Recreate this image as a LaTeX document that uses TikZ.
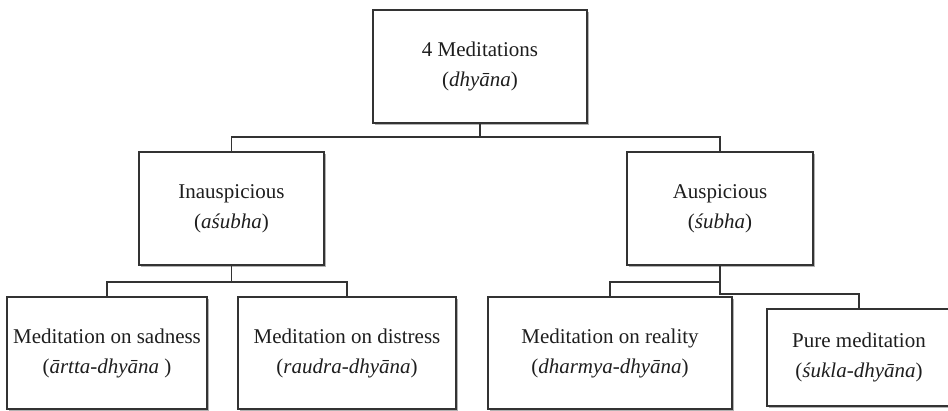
\documentclass[tikz,border=0pt]{standalone}
\usepackage{fontspec}
\setmainfont{Liberation Serif}
\usetikzlibrary{shadows}
\definecolor{linec}{HTML}{333333}
\definecolor{textc}{HTML}{1E1E1E}
\begin{document}
\begin{tikzpicture}[x=1pt,y=-1pt,
  box/.style={draw=linec, line width=2.3pt, fill=white, inner sep=0pt, align=center,
    text=textc, font=\fontsize{21}{30}\selectfont,
    drop shadow={shadow xshift=2pt, shadow yshift=-2.5pt, fill=black, opacity=0.3}},
  conn/.style={draw=linec, line width=1.9pt}]
\useasboundingbox (0,0) rectangle (948,411);
\clip (0,0) rectangle (948,411);
\node[box, minimum width=214pt, minimum height=113pt] (top) at (480,66.5) {4 Meditations\\(\textit{dhyāna})};
\node[box, minimum width=185pt, minimum height=113pt] (inaus) at (231.5,208.5) {Inauspicious\\(\textit{aśubha})};
\node[box, minimum width=186pt, minimum height=113pt] (aus) at (720,208.5) {Auspicious\\(\textit{śubha})};
\node[box, minimum width=200pt, minimum height=112pt] (sad) at (107,353) {Meditation on sadness\\(\textit{ārtta-dhyāna} )};
\node[box, minimum width=218pt, minimum height=112pt] (dis) at (347,353) {Meditation on distress\\(\textit{raudra-dhyāna})};
\node[box, minimum width=244pt, minimum height=112pt] (real) at (610,353) {Meditation on reality\\(\textit{dharmya-dhyāna})};
\node[box, minimum width=184pt, minimum height=97pt] (pure) at (859,357.5) {Pure meditation\\(\textit{śukla-dhyāna})};
\coordinate (h1) at (0,137);
\coordinate (h2) at (0,282);
\coordinate (h3) at (0,294);
\draw[conn] (top.south) -- (top.south |- h1);
\draw[conn] (inaus.north) |- (top.south |- h1) -| (aus.north);
\draw[conn] (inaus.south) -- (inaus.south |- h2);
\draw[conn] (sad.north) |- (inaus.south |- h2) -| (dis.north);
\draw[conn] (real.north) |- (aus.south |- h2) -- (aus.south);
\draw[conn] (aus.south |- h2) -- (aus.south |- h3) -| (pure.north);
\end{tikzpicture}
\end{document}
